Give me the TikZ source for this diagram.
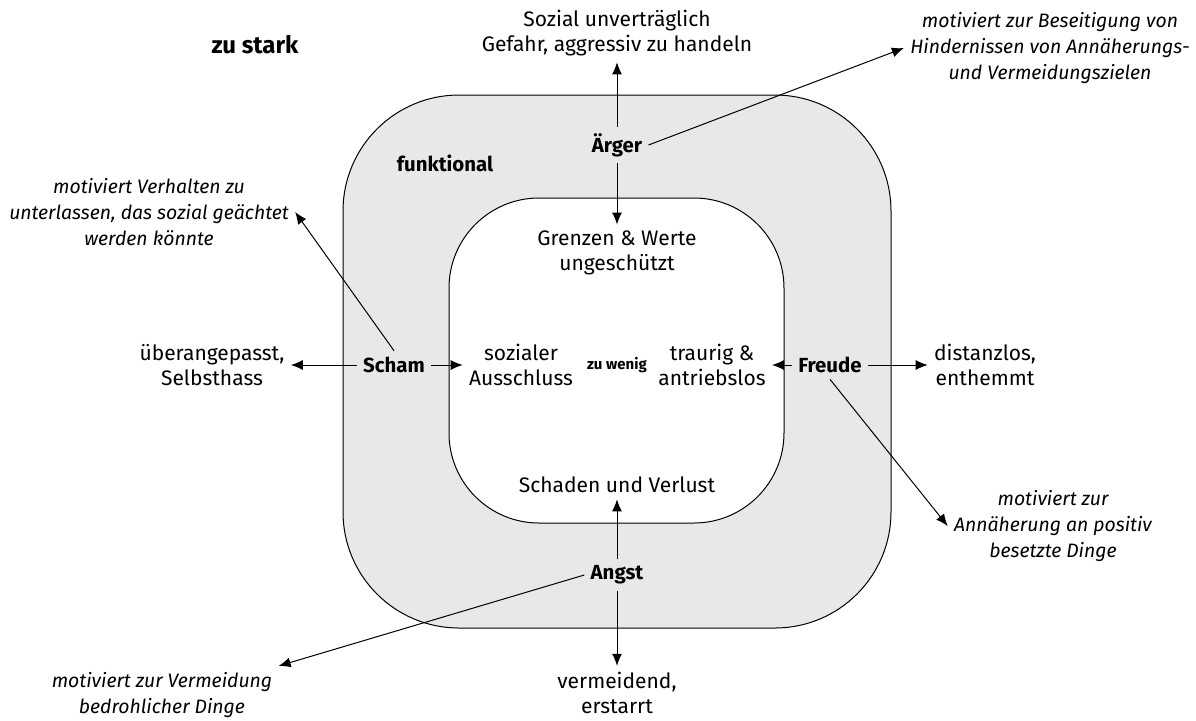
\documentclass[tikz,border=0pt]{standalone}
\usepackage{fontspec}
\setmainfont{Fira Sans}
\usetikzlibrary{arrows.meta}
\definecolor{ringgray}{HTML}{E8E8E8}
\tikzset{
  lbl/.style={font=\fontsize{10.5}{12.5}\selectfont, align=center, inner sep=3pt},
  emo/.style={font=\bfseries\fontsize{10.2}{12.5}\selectfont, inner sep=3pt},
  note/.style={font=\itshape\fontsize{9.7}{13}\selectfont, align=center, inner sep=3pt},
  arr/.style={-{Latex[length=6pt,width=5pt]}, line width=0.5pt},
  ln/.style={line width=0.5pt}
}
\begin{document}
\begin{tikzpicture}[x=0.5pt,y=-0.5pt]
\useasboundingbox (0,0) rectangle (1196,720);
\draw[ln, fill=ringgray, rounded corners=58pt] (343,95) rectangle (891,628);
\draw[ln, fill=white, rounded corners=45pt] (449,198) rectangle (784,523);

\node[font=\bfseries\fontsize{12}{14}\selectfont] (stark) at (255,45) {zu stark};
\node[emo] (funk) at (445,163) {funktional};
\node[font=\bfseries\fontsize{7.5}{9}\selectfont] (wenig) at (617,365) {zu wenig};

\node[lbl] (top) at (617,33) {Sozial unverträglich\\Gefahr, aggressiv zu handeln};
\node[emo] (aerger) at (617,145) {Ärger};
\node[lbl] (grenz) at (617,253) {Grenzen \& Werte\\ungeschützt};
\node[note] (tr) at (1050,48) {motiviert zur Beseitigung von\\Hindernissen von Annäherungs-\\und Vermeidungszielen};

\node[note] (tl) at (149,212) {motiviert Verhalten zu\\unterlassen, das sozial geächtet\\werden könnte};
\node[emo] (scham) at (394,365) {Scham};
\node[lbl] (ueber) at (212,365) {überangepasst,\\Selbsthass};
\node[lbl] (sozial) at (521,365) {sozialer\\Ausschluss};

\node[lbl] (traurig) at (712,365) {traurig \&\\antriebslos};
\node[emo] (freude) at (830,365) {Freude};
\node[lbl] (dist) at (985,365) {distanzlos,\\enthemmt};
\node[note] (br) at (1053,526) {motiviert zur\\Annäherung an positiv\\besetzte Dinge};

\node[lbl] (schaden) at (617,485) {Schaden und Verlust};
\node[emo] (angst) at (617,575) {Angst};
\node[lbl] (verm) at (617,693) {vermeidend,\\erstarrt};
\node[note] (bl) at (162,695) {motiviert zur Vermeidung\\bedrohlicher Dinge};

\draw[arr] (aerger) -- (top);
\draw[arr] (aerger) -- (grenz);
\draw[arr] (aerger.east) -- (tr.west);
\draw[arr] (scham.north) -- (tl.east);
\draw[arr] (scham.west) -- (ueber.east);
\draw[arr] (scham.east) -- (sozial.west);
\draw[arr] (freude.west) -- (traurig.east);
\draw[arr] (freude.east) -- (dist.west);
\draw[arr] (freude.south) -- (br.west);
\draw[arr] (angst) -- (schaden);
\draw[arr] (angst) -- (verm);
\draw[arr] (angst.west) -- (bl.north east);
\end{tikzpicture}
\end{document}
